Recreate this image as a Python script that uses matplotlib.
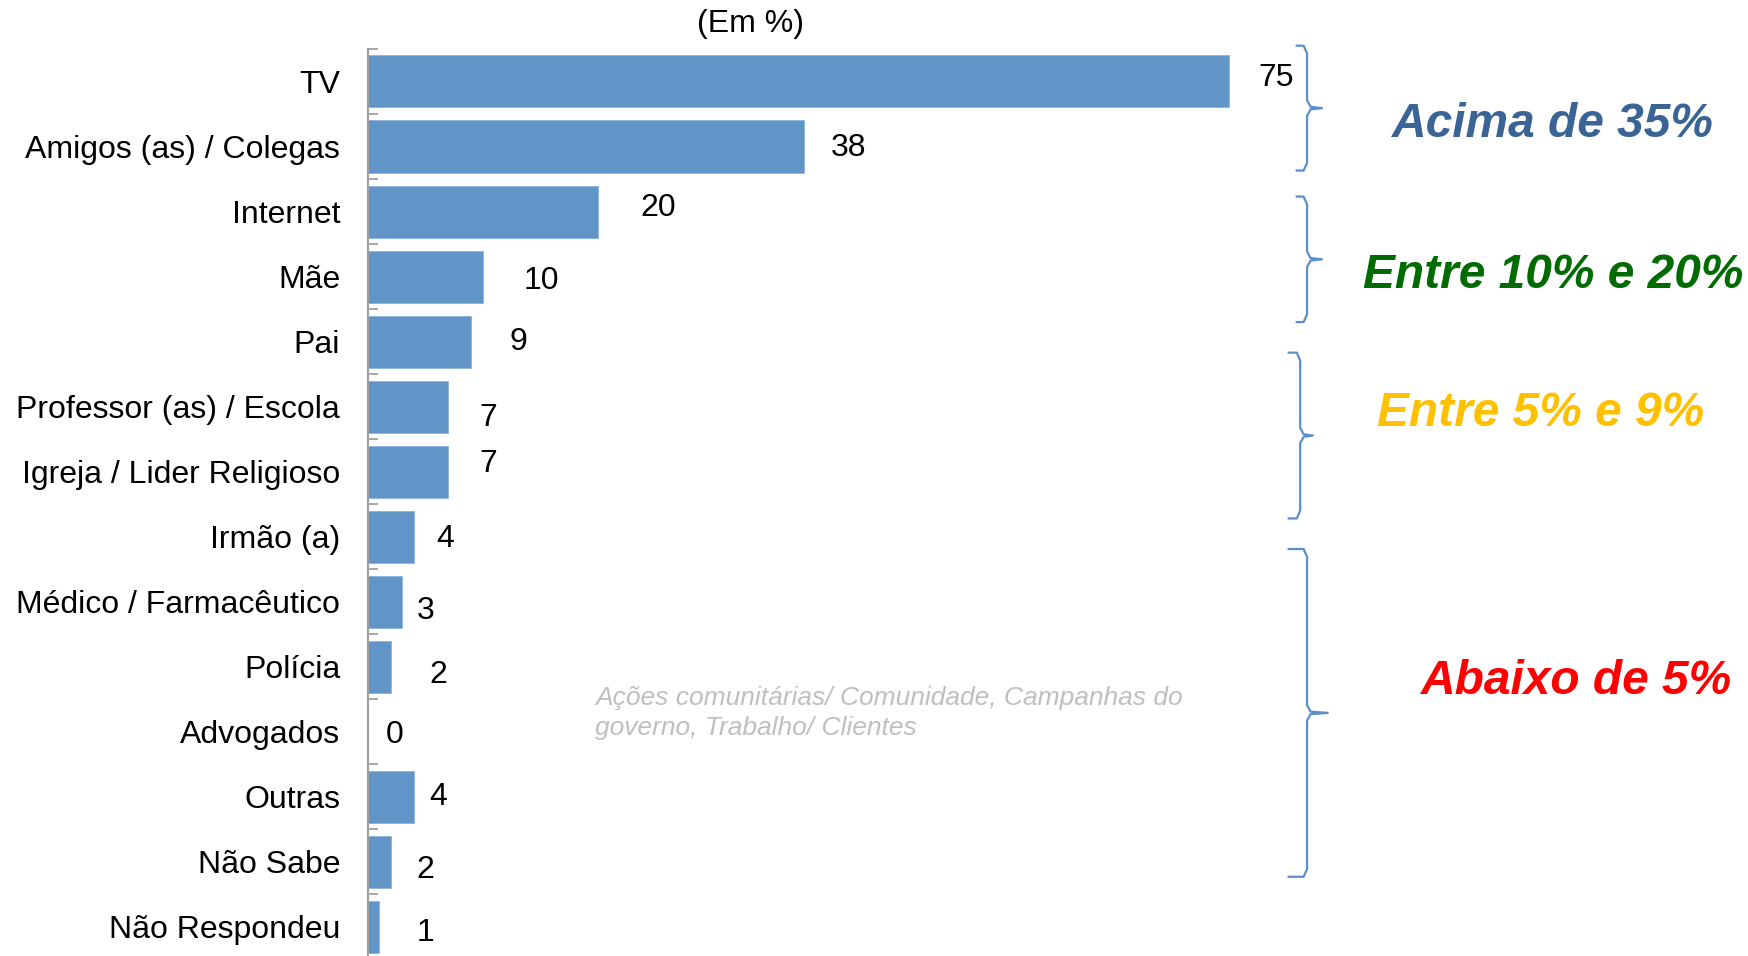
import matplotlib
matplotlib.use('Agg')
import matplotlib.pyplot as plt
import numpy as np

# Data
categories = ['TV', 'Amigos (as) / Colegas', 'Internet', 'Mãe', 'Pai',
              'Professor (as) / Escola', 'Igreja / Lider Religioso', 'Irmão (a)',
              'Médico / Farmacêutico', 'Polícia', 'Advogados', 'Outras',
              'Não Sabe', 'Não Respondeu']
values = [75, 38, 20, 10, 9, 7, 7, 4, 3, 2, 0, 4, 2, 1]

# label offsets (dx in %, dy in rows) to follow the original placement
label_dx = [4.1, 3.9, 5.3, 5.1, 4.1, 3.5, 3.5, 2.7, 2.0, 4.1, 2.35, 2.1, 3.0, 4.0]
label_dy = [-0.05, 0.03, -0.05, 0.07, 0.0, 0.17, -0.12, 0.03, 0.15, 0.12, 0.05, 0.0, 0.12, 0.09]

group_labels = ['Acima de 35%', 'Entre 10% e 20%', 'Entre 5% e 9%', 'Abaixo de 5%']
group_colors = ['#3A6396', '#006B00', '#FFC000', '#FF0000']
# brace extents in row units: (top, bottom)
group_spans = [(-0.55, 1.37), (1.77, 3.70), (4.17, 6.72), (7.19, 12.23)]

note_text = 'Ações comunitárias/ Comunidade, Campanhas do\ngoverno, Trabalho/ Clientes'

plt.rcParams['font.family'] = ['Liberation Sans', 'DejaVu Sans']

fig = plt.figure(figsize=(17.49, 9.56), dpi=100)
ax = fig.add_axes([368 / 1749, -0.0035, 918.4 / 1749, 910.4 / 956])

y = np.arange(len(categories))
bar_color = '#6195C8'
ax.barh(y, values, height=0.8, color=bar_color, edgecolor='#8DB4DE', linewidth=0.6)

ax.set_xlim(0, 80)
ax.set_ylim(len(categories) - 0.5, -0.5)

for s in ['top', 'right', 'bottom']:
    ax.spines[s].set_visible(False)
ax.spines['left'].set_color('#A0A0A0')
ax.spines['left'].set_linewidth(1.5)

ax.set_xticks([])
ax.set_yticks(y)
ax.set_yticklabels(categories, fontsize=23)
ax.tick_params(axis='y', which='major', length=0, pad=20)
ax.set_yticks(np.arange(-0.5, len(categories), 1), minor=True)
ax.tick_params(axis='y', which='minor', direction='in', length=7, width=1.3, color='#A0A0A0')

for i, v in enumerate(values):
    ax.text(v + label_dx[i], i + label_dy[i], str(v), fontsize=23,
            ha='center', va='center', color='black')

# subtitle
fig.text(751 / 1749, 1 - 24 / 956, '(Em %)', fontsize=23, ha='center', va='center')

# gray note
ax.text(595 / 1749, 1 - 713 / 956, note_text, transform=fig.transFigure,
        fontsize=19, style='italic', color='#BFBFBF', ha='left', va='center',
        linespacing=1.35)

# braces
brace_color = '#5B8FCB'
brace_x = [(80.9, 81.8, 83.1), (80.9, 81.8, 83.1), (80.2, 81.2, 82.3), (80.2, 81.8, 83.6)]
for (top, bot), (x0, xv, xt) in zip(group_spans, brace_x):
    mid = (top + bot) / 2
    r = 0.12
    xs = [x0, xv - 0.3, xv, xv, xv + 0.3, xt, xv + 0.3, xv, xv, xv - 0.3, x0]
    ys = [top, top, top + r, mid - r, mid - 0.02, mid, mid + 0.02, mid + r, bot - r, bot, bot]
    ax.plot(xs, ys, color=brace_color, lw=1.6, clip_on=False, solid_joinstyle='round')

# group labels
label_pos = [(1553, 125), (1553, 275), (1541, 413), (1577, 682)]
for txt, col, (px, py) in zip(group_labels, group_colors, label_pos):
    fig.text(px / 1749, 1 - py / 956, txt, fontsize=34.5, fontweight='bold',
             style='italic', color=col, ha='center', va='center')

fig.savefig('out.png', dpi=100)
